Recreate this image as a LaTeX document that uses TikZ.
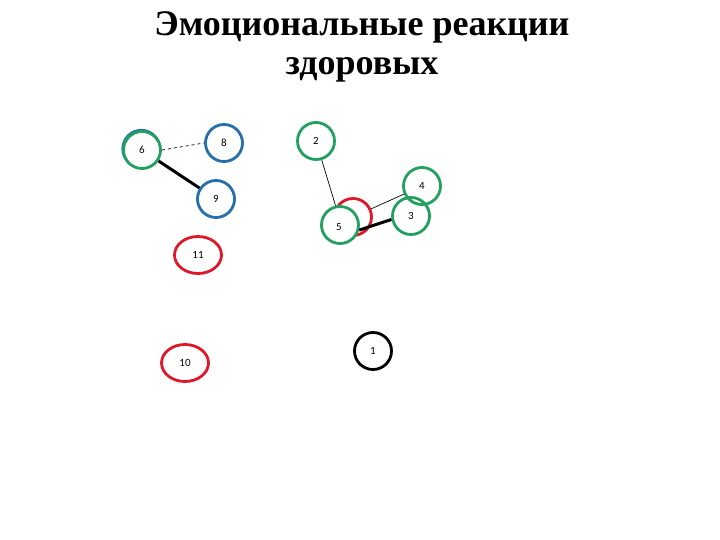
\documentclass[tikz,border=0pt]{standalone}
\usepackage{fontspec}
\usetikzlibrary{shapes.geometric}
\setmainfont{Liberation Serif}
\newfontfamily\lblfont{Carlito}
\definecolor{cgreen}{RGB}{34,160,96}
\definecolor{cblue}{RGB}{36,112,172}
\definecolor{cred}{RGB}{222,24,40}
\begin{document}
\begin{tikzpicture}[x=1pt,y=-1pt,
  ring/.style={circle,draw,line width=2.8pt,minimum size=37pt,inner sep=0pt,font=\lblfont\fontsize{11}{11}\selectfont},
  oval/.style={ellipse,draw,line width=2.8pt,minimum width=47pt,minimum height=37pt,inner sep=0pt,font=\lblfont\fontsize{11}{11}\selectfont},
  gr/.style={ring,draw=cgreen},
  bl/.style={ring,draw=cblue},
  rd/.style={ring,draw=cred},
  thin/.style={line width=0.7pt,black},
  thick/.style={line width=3pt,black}]
\useasboundingbox (0,0) rectangle (720,540);
\node[font=\fontsize{36}{40}\selectfont\bfseries,align=center,anchor=base] (t1) at (362,36) {Эмоциональные реакции};
\node[font=\fontsize{36}{40}\selectfont\bfseries,align=center,anchor=base] (t2) at (362,75) {здоровых};
% nodes
\node[bl] (n7) at (141.3,148.8) {};
\node[gr,fill=white] (n6) at (142,150) {6};
\node[bl] (n8) at (224,143) {8};
\node[bl] (n9) at (216,199) {9};
\node[gr] (n2) at (316,141) {2};
\node[rd] (nr) at (353,217) {};
\node[gr,fill=white] (n5) at (340,225) {};
\node at (339,227) (l5) {\lblfont\fontsize{11}{11}\selectfont 5};
\node[gr] (n4) at (422,186) {4};
\node[gr] (n3) at (411,216) {3};
\node[oval,draw=cred] (n11) at (198,255) {11};
\node[oval,draw=cred] (n10) at (185,363) {10};
\node[ring,draw=black] (n1) at (373,351) {1};
% connectors
\draw[thin,dashed] (n6.east) -- (n8.west);
\draw[thick] (n6) -- (n9);
\draw[thin] (n2) -- (n5.103);
\draw[thin] (n4) -- (nr);
\draw[thick] (n5.-15) -- (n3.190);
\end{tikzpicture}
\end{document}
